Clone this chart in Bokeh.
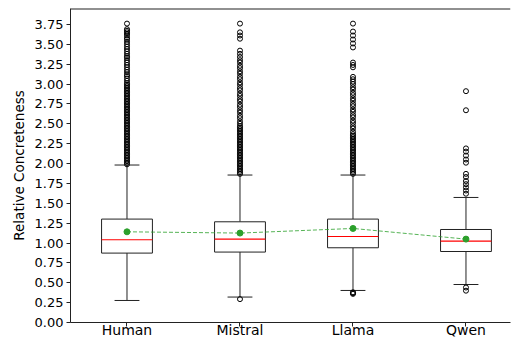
from bokeh.plotting import figure
from bokeh.models import Range1d, FixedTicker, NumeralTickFormatter
from bokeh.embed import file_html
from bokeh.resources import INLINE

# ---- data ----
categories = ["Human", "Mistral", "Llama", "Qwen"]
positions = [1, 2, 3, 4]
q1 = [0.873, 0.886, 0.940, 0.893]
median = [1.041, 1.049, 1.082, 1.024]
q3 = [1.301, 1.267, 1.301, 1.170]
whisker_low = [0.277, 0.320, 0.403, 0.478]
whisker_high = [1.981, 1.855, 1.855, 1.573]
means = [1.141, 1.125, 1.183, 1.049]

outliers_human = [
    1.99, 2.01, 2.03, 2.05, 2.07, 2.09, 2.11, 2.13, 2.15, 2.17, 2.19, 2.21, 2.23,
    2.25, 2.27, 2.29, 2.31, 2.33, 2.35, 2.37, 2.39, 2.41, 2.43, 2.45, 2.47, 2.49,
    2.51, 2.53, 2.55, 2.57, 2.59, 2.61, 2.63, 2.65, 2.67, 2.69, 2.71, 2.73, 2.75,
    2.77, 2.79, 2.81, 2.83, 2.85, 2.87, 2.89, 2.91, 2.93, 2.95, 2.97, 2.99, 3.01,
    3.04, 3.07, 3.10, 3.12, 3.15, 3.18, 3.21, 3.24, 3.27, 3.30, 3.33, 3.35, 3.38,
    3.41, 3.44, 3.47, 3.50, 3.53, 3.56, 3.58, 3.61, 3.63, 3.65, 3.67, 3.69, 3.76,
]
outliers_mistral = [
    0.294,
    1.87, 1.89, 1.91, 1.93, 1.95, 1.97, 1.99, 2.01, 2.03, 2.05, 2.07, 2.09, 2.11,
    2.13, 2.15, 2.17, 2.19, 2.21, 2.23, 2.25, 2.27, 2.29, 2.31, 2.33, 2.35, 2.37,
    2.39, 2.41, 2.43, 2.45, 2.47, 2.50,
    2.53, 2.57, 2.60, 2.64, 2.67, 2.71, 2.74, 2.78, 2.81, 2.85, 2.88, 2.92, 2.95,
    2.99, 3.02, 3.06, 3.09, 3.13, 3.16, 3.20, 3.23, 3.27, 3.30,
    3.34, 3.38, 3.42, 3.57, 3.61, 3.65, 3.76,
]
outliers_llama = [
    0.36, 0.37, 0.38,
    1.87, 1.89, 1.91, 1.93, 1.95, 1.97, 1.99, 2.01, 2.03, 2.05, 2.07, 2.09, 2.11,
    2.13, 2.15, 2.17, 2.19, 2.21, 2.23, 2.25, 2.27, 2.29, 2.31, 2.33, 2.35, 2.37,
    2.40, 2.44, 2.47, 2.51, 2.54, 2.58, 2.61, 2.65, 2.68, 2.72, 2.75, 2.79, 2.82,
    2.86, 2.89, 2.93, 2.96, 3.00, 3.03, 3.06, 3.09,
    3.21, 3.24, 3.27, 3.46, 3.51, 3.56, 3.61, 3.66, 3.76,
]
outliers_qwen = [
    0.40, 0.44,
    1.62, 1.66, 1.70, 1.74, 1.78, 1.83, 1.87,
    2.01, 2.05, 2.10, 2.15, 2.19, 2.67, 2.91,
]
outliers = [outliers_human, outliers_mistral, outliers_llama, outliers_qwen]

y_ticks = [0.0, 0.25, 0.5, 0.75, 1.0, 1.25, 1.5, 1.75, 2.0, 2.25, 2.5, 2.75,
           3.0, 3.25, 3.5, 3.75]
y_label = "Relative Concreteness"

# ---- styling constants ----
FONT = "DejaVu Sans"
BOX_W = 0.45
CAP_HALF = 0.11
X_MIN = 0.5
X_MAX = 4.394
Y_MIN = 0.0
Y_MAX = 3.95
LINE = "#222222"

p = figure(width=514, height=340, output_backend="svg", toolbar_location=None,
           x_range=Range1d(X_MIN, X_MAX), y_range=Range1d(Y_MIN, Y_MAX),
           min_border_left=70, min_border_right=4, min_border_top=8,
           min_border_bottom=18)
p.grid.visible = False
p.outline_line_color = None
p.background_fill_color = "white"
p.border_fill_color = "white"

# top spine (frame edge, half of a 2px line shows inside the frame)
p.segment(x0=[X_MIN], x1=[X_MAX], y0=[Y_MAX], y1=[Y_MAX], line_color=LINE, line_width=2)

# whiskers
p.segment(x0=positions, x1=positions, y0=q3, y1=whisker_high, line_color=LINE, line_width=1)
p.segment(x0=positions, x1=positions, y0=q1, y1=whisker_low, line_color=LINE, line_width=1)
p.segment(x0=[x - CAP_HALF for x in positions], x1=[x + CAP_HALF for x in positions],
          y0=whisker_high, y1=whisker_high, line_color=LINE, line_width=1)
p.segment(x0=[x - CAP_HALF for x in positions], x1=[x + CAP_HALF for x in positions],
          y0=whisker_low, y1=whisker_low, line_color=LINE, line_width=1)

# boxes
p.vbar(x=positions, width=BOX_W, bottom=q1, top=q3, fill_color="white",
       line_color=LINE, line_width=1)
# medians
p.segment(x0=[x - BOX_W / 2 for x in positions], x1=[x + BOX_W / 2 for x in positions],
          y0=median, y1=median, line_color="red", line_width=1.2)

# outliers
ox, oy = [], []
for pos, vals in zip(positions, outliers):
    ox.extend([pos] * len(vals))
    oy.extend(vals)
p.scatter(ox, oy, marker="circle", size=5, fill_color=None, line_color="black",
          line_width=1)

# means
p.line(positions, means, line_color="#2ca02c", line_dash="4 2", line_width=1,
       line_alpha=0.8)
p.scatter(positions, means, marker="circle", size=6, fill_color="#2ca02c",
          line_color="#2ca02c")

# axes
p.xaxis.ticker = FixedTicker(ticks=positions)
p.xaxis.major_label_overrides = {pos: name for pos, name in zip(positions, categories)}
p.yaxis.ticker = FixedTicker(ticks=y_ticks)
p.yaxis.formatter = NumeralTickFormatter(format="0.00")
p.yaxis.axis_label = y_label

for ax in (p.xaxis[0], p.yaxis[0]):
    ax.axis_line_color = LINE
    ax.major_tick_line_color = LINE
    ax.major_tick_in = 0
    ax.major_tick_out = 4
    ax.minor_tick_line_color = None
    ax.major_label_text_font = FONT
    ax.major_label_text_color = "black"
    ax.axis_label_text_font = FONT
    ax.axis_label_text_font_style = "normal"
    ax.axis_label_text_color = "black"

p.xaxis.major_label_text_font_size = "14px"
p.xaxis.major_label_standoff = -5
p.yaxis.major_label_text_font_size = "13px"
p.yaxis.major_label_standoff = 3
p.yaxis.axis_label_text_font_size = "13.5px"
p.yaxis.axis_label_standoff = 5

open("out.html", "w").write(file_html(p, INLINE))
